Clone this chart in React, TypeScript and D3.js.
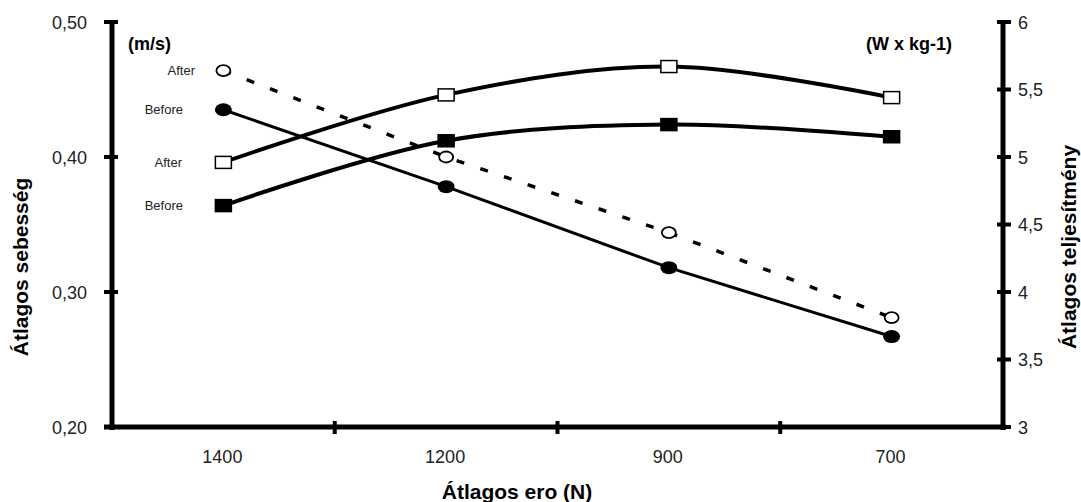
import React, { useRef, useEffect } from "react";
import {
  select,
  scaleBand,
  scaleLinear,
  line,
  curveLinear,
  curveCatmullRom,
} from "d3";

// data
const categories = ["1400", "1200", "900", "700"];
const speedBefore = [0.435, 0.378, 0.318, 0.267];
const speedAfter = [0.464, 0.4, 0.344, 0.281];
const powerBefore = [4.64, 5.12, 5.24, 5.15];
const powerAfter = [4.96, 5.46, 5.67, 5.44];
const leftTicks = [0.2, 0.3, 0.4, 0.5];
const rightTicks = [3, 3.5, 4, 4.5, 5, 5.5, 6];

const W = 1081;
const H = 502;
const FONT = "'Liberation Sans', Arial, sans-serif";

const App = () => {
  const svgRef = useRef<SVGSVGElement>(null);

  useEffect(() => {
    const svg = select(svgRef.current);
    svg.selectAll("*").remove();

    //scales
    const x = scaleBand().domain(categories).range([112, 1003]).padding(0);
    const cx = (i: number) => (x(categories[i]) as number) + x.bandwidth() / 2;
    const yL = scaleLinear().domain([0.2, 0.5]).range([427, 22]);
    const yR = scaleLinear().domain([3, 6]).range([427, 22]);

    //axes
    const ax = svg.append("g");
    ax.append("line")
      .attr("x1", 112).attr("x2", 112).attr("y1", 20).attr("y2", 430)
      .attr("stroke", "#000").attr("stroke-width", 5);
    ax.append("line")
      .attr("x1", 1003).attr("x2", 1003).attr("y1", 20).attr("y2", 430)
      .attr("stroke", "#000").attr("stroke-width", 5);
    ax.append("line")
      .attr("x1", 104).attr("x2", 1006).attr("y1", 427).attr("y2", 427)
      .attr("stroke", "#000").attr("stroke-width", 5);

    leftTicks.forEach((t) => {
      ax.append("line")
        .attr("x1", 104).attr("x2", 118).attr("y1", yL(t)).attr("y2", yL(t))
        .attr("stroke", "#000").attr("stroke-width", 4);
      ax.append("text")
        .attr("x", 87).attr("y", yL(t) + 6.5)
        .attr("text-anchor", "end")
        .attr("font-size", 18).attr("font-family", FONT).attr("fill", "#222")
        .text(t.toFixed(2).replace(".", ","));
    });

    rightTicks.forEach((t) => {
      ax.append("line")
        .attr("x1", 997).attr("x2", 1011).attr("y1", yR(t)).attr("y2", yR(t))
        .attr("stroke", "#000").attr("stroke-width", 4);
      ax.append("text")
        .attr("x", 1018).attr("y", yR(t) + 6.5)
        .attr("font-size", 18).attr("font-family", FONT).attr("fill", "#222")
        .text(String(t).replace(".", ","));
    });

    categories.forEach((c, i) => {
      const b = x(c) as number;
      if (i > 0) {
        ax.append("line")
          .attr("x1", b).attr("x2", b).attr("y1", 421).attr("y2", 434)
          .attr("stroke", "#000").attr("stroke-width", 4);
      }
      ax.append("text")
        .attr("x", cx(i) - 1).attr("y", 463)
        .attr("text-anchor", "middle")
        .attr("font-size", 18).attr("font-family", FONT).attr("fill", "#222")
        .text(c);
    });

    //titles
    svg.append("text")
      .attr("x", 517).attr("y", 499).attr("text-anchor", "middle")
      .attr("font-size", 21).attr("font-weight", "bold").attr("font-family", FONT)
      .text("Átlagos ero (N)");
    svg.append("text")
      .attr("transform", "translate(28,267) rotate(-90)")
      .attr("text-anchor", "middle")
      .attr("font-size", 21).attr("font-weight", "bold").attr("font-family", FONT)
      .text("Átlagos sebesség");
    svg.append("text")
      .attr("transform", "translate(1076,247) rotate(-90)")
      .attr("text-anchor", "middle")
      .attr("font-size", 21).attr("font-weight", "bold").attr("font-family", FONT)
      .text("Átlagos teljesítmény");
    svg.append("text")
      .attr("x", 128).attr("y", 50)
      .attr("font-size", 18).attr("font-weight", "bold").attr("font-family", FONT)
      .text("(m/s)");
    svg.append("text")
      .attr("x", 952).attr("y", 50).attr("text-anchor", "end")
      .attr("font-size", 18).attr("font-weight", "bold").attr("font-family", FONT)
      .text("(W x kg-1)");

    //lines
    const straight = (ys: (v: number) => number) =>
      line<number>().x((d, i) => cx(i)).y((d) => ys(d)).curve(curveLinear);
    const smooth = (ys: (v: number) => number) =>
      line<number>().x((d, i) => cx(i)).y((d) => ys(d)).curve(curveCatmullRom.alpha(0.5));

    const g = svg.append("g");
    g.append("path").datum(powerAfter).attr("d", smooth(yR))
      .attr("fill", "none").attr("stroke", "#000").attr("stroke-width", 4);
    g.append("path").datum(powerBefore).attr("d", smooth(yR))
      .attr("fill", "none").attr("stroke", "#000").attr("stroke-width", 4);
    g.append("path").datum(speedAfter).attr("d", straight(yL))
      .attr("fill", "none").attr("stroke", "#000").attr("stroke-width", 3.5)
      .attr("stroke-dasharray", "8,17");
    g.append("path").datum(speedBefore).attr("d", straight(yL))
      .attr("fill", "none").attr("stroke", "#000").attr("stroke-width", 3);

    //markers
    powerAfter.forEach((v, i) => {
      g.append("rect").attr("x", cx(i) - 8).attr("y", yR(v) - 6).attr("width", 16).attr("height", 12)
        .attr("fill", "#fff").attr("stroke", "#000").attr("stroke-width", 1.5);
    });
    powerBefore.forEach((v, i) => {
      g.append("rect").attr("x", cx(i) - 8).attr("y", yR(v) - 6).attr("width", 16).attr("height", 12)
        .attr("fill", "#000").attr("stroke", "#000").attr("stroke-width", 1.5);
    });
    speedAfter.forEach((v, i) => {
      g.append("ellipse").attr("cx", cx(i)).attr("cy", yL(v)).attr("rx", 7).attr("ry", 5.5)
        .attr("fill", "#fff").attr("stroke", "#000").attr("stroke-width", 1.8);
    });
    speedBefore.forEach((v, i) => {
      g.append("ellipse").attr("cx", cx(i)).attr("cy", yL(v)).attr("rx", 8.5).attr("ry", 6.5)
        .attr("fill", "#000");
    });

    //series labels
    const labels: [string, number, number][] = [
      ["After", yL(speedAfter[0]), 195],
      ["Before", yL(speedBefore[0]), 183],
      ["After", yR(powerAfter[0]), 182],
      ["Before", yR(powerBefore[0]), 183],
    ];
    labels.forEach(([t, y, xe]) => {
      svg.append("text")
        .attr("x", xe).attr("y", y + 4.5).attr("text-anchor", "end")
        .attr("font-size", 13).attr("font-family", FONT).attr("fill", "#222")
        .text(t);
    });
  }, []);

  return <svg ref={svgRef} width={W} height={H} style={{ display: "block", position: "absolute", left: 0, top: 0 }} />;
};

export default App;
